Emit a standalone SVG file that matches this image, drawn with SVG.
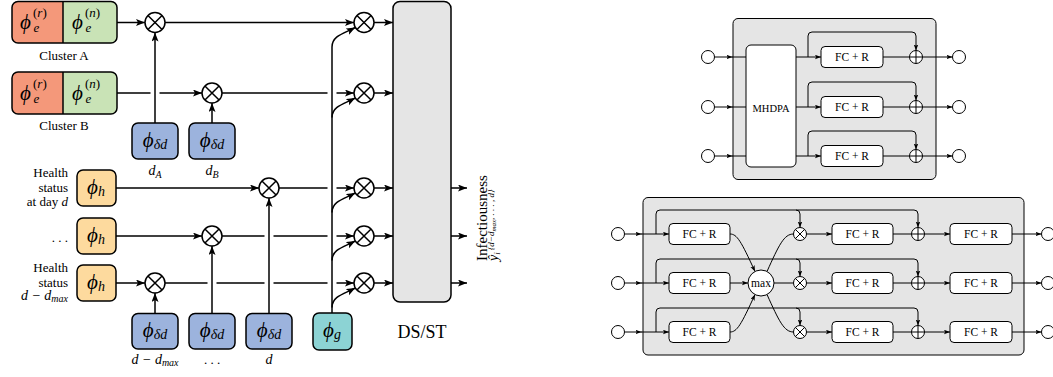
<svg xmlns="http://www.w3.org/2000/svg" width="1053" height="377" viewBox="0 0 1053 377">
<style>
.ln{fill:none;stroke:#000;stroke-width:1.5}
.ln2{fill:none;stroke:#000;stroke-width:1}
.bx{stroke:#000;stroke-width:1.5}
.bx2{fill:#fff;stroke:#000;stroke-width:1}
.t{font-family:"Liberation Serif","DejaVu Serif",serif;fill:#000}
.i{font-style:italic}
.c{text-anchor:middle}
.e{text-anchor:end}
.blue{fill:#9cb3dd}
.yel{fill:#fdda9e}
</style>
<defs>
<marker id="a" markerWidth="10" markerHeight="8" refX="9" refY="3.5" orient="auto" markerUnits="userSpaceOnUse"><path d="M0,0L9,3.5L0,7L2,3.5z" fill="#000"/></marker>
<marker id="s" markerWidth="7" markerHeight="6" refX="6" refY="2.25" orient="auto" markerUnits="userSpaceOnUse"><path d="M0,0L6,2.25L0,4.5L1.2,2.25z" fill="#000"/></marker>
<g id="ot"><circle r="10" fill="#fff" stroke="#000" stroke-width="1.5"/><path d="M-7.07,-7.07L7.07,7.07M-7.07,7.07L7.07,-7.07" stroke="#000" stroke-width="1.5"/></g>
<g id="ots"><circle r="6.5" fill="#fff" stroke="#000" stroke-width="1"/><path d="M-4.6,-4.6L4.6,4.6M-4.6,4.6L4.6,-4.6" stroke="#000" stroke-width="1"/></g>
<g id="op"><circle r="6.5" fill="#fff" stroke="#000" stroke-width="1"/><path d="M-6.5,0H6.5M0,-6.5V6.5" stroke="#000" stroke-width="1"/></g>
</defs>

<!-- background blocks -->
<g id="dsst">
<rect x="393" y="1.5" width="58" height="300.5" rx="7" fill="#e5e5e5" class="bx"/>
<text class="t c" x="422" y="338" font-size="18">DS/ST</text>
</g>
<g id="rt-block"><rect x="733" y="18.5" width="203" height="161" rx="5" fill="#e5e5e5" stroke="#000" stroke-width="1"/></g>
<g id="rb-block"><rect x="643" y="197.5" width="381" height="157.5" rx="5" fill="#e5e5e5" stroke="#000" stroke-width="1"/></g>

<g id="connectors">
<path class="ln" marker-end="url(#a)" d="M117,22.5H145"/>
<path class="ln" marker-end="url(#a)" d="M165,22.5H354"/>
<path class="ln" marker-end="url(#a)" d="M117,93H150.5M159.5,93H202"/>
<path class="ln" marker-end="url(#a)" d="M222,93H327.5M336.5,93H354"/>
<path class="ln" marker-end="url(#a)" d="M116,188H259"/>
<path class="ln" marker-end="url(#a)" d="M279,188H327.5M336.5,188H354"/>
<path class="ln" marker-end="url(#a)" d="M116,236H202"/>
<path class="ln" marker-end="url(#a)" d="M222,236H264.5M273.5,236H327.5M336.5,236H354"/>
<path class="ln" marker-end="url(#a)" d="M116,283H145"/>
<path class="ln" marker-end="url(#a)" d="M165,283H207.5M216.5,283H264.5M273.5,283H327.5M336.5,283H354"/>
<path class="ln" marker-end="url(#a)" d="M155,123V32.5"/>
<path class="ln" marker-end="url(#a)" d="M212,123V103"/>
<path class="ln" marker-end="url(#a)" d="M155,313.5V293"/>
<path class="ln" marker-end="url(#a)" d="M212,313.5V246"/>
<path class="ln" marker-end="url(#a)" d="M269,313.5V198"/>
<path class="ln" d="M332,313V47"/>
<path class="ln" marker-end="url(#a)" d="M332,47C332,35.5 344,33.5 355.3,27.5"/>
<path class="ln" marker-end="url(#a)" d="M332,117.5C332,106 344,104 355.3,98"/>
<path class="ln" marker-end="url(#a)" d="M332,212.5C332,201 344,199 355.3,193"/>
<path class="ln" marker-end="url(#a)" d="M332,260.5C332,249 344,247 355.3,241"/>
<path class="ln" marker-end="url(#a)" d="M332,307.5C332,296 344,294 355.3,288"/>
<path class="ln" marker-end="url(#a)" d="M374,22.5H393"/>
<path class="ln" marker-end="url(#a)" d="M374,93H393"/>
<path class="ln" marker-end="url(#a)" d="M374,188H393"/>
<path class="ln" marker-end="url(#a)" d="M374,236H393"/>
<path class="ln" marker-end="url(#a)" d="M374,283H393"/>
<path class="ln" marker-end="url(#a)" d="M451,188H467"/>
<path class="ln" marker-end="url(#a)" d="M451,236H467"/>
<path class="ln" marker-end="url(#a)" d="M451,283H467"/>

<!-- right top -->
<path class="ln2" marker-end="url(#s)" d="M714.5,57H732.5"/>
<path class="ln2" marker-end="url(#s)" d="M714.5,107H732.5"/>
<path class="ln2" marker-end="url(#s)" d="M714.5,156H732.5"/>
<path class="ln2" d="M732,57H746M732,107H746M732,156H746"/>
<path class="ln2" marker-end="url(#s)" d="M796,57H821"/>
<path class="ln2" marker-end="url(#s)" d="M796,107H821"/>
<path class="ln2" marker-end="url(#s)" d="M796,156H821"/>
<path class="ln2" marker-end="url(#s)" d="M808,57V36Q808,32 812,32H912Q916,32 916,36V50.5"/>
<path class="ln2" marker-end="url(#s)" d="M808,107V86Q808,82 812,82H912Q916,82 916,86V100.5"/>
<path class="ln2" marker-end="url(#s)" d="M808,156V135Q808,131 812,131H912Q916,131 916,135V149.5"/>
<path class="ln2" d="M883,57H909.5M883,107H909.5M883,156H909.5"/>
<path class="ln2" marker-end="url(#s)" d="M922.5,57H952.5"/>
<path class="ln2" marker-end="url(#s)" d="M922.5,107H952.5"/>
<path class="ln2" marker-end="url(#s)" d="M922.5,156H952.5"/>

<!-- right bottom -->
<path class="ln2" marker-end="url(#s)" d="M624.5,234H641.5"/>
<path class="ln2" marker-end="url(#s)" d="M624.5,283H641.5"/>
<path class="ln2" marker-end="url(#s)" d="M624.5,332H641.5"/>
<path class="ln2" marker-end="url(#s)" d="M641,234H669"/>
<path class="ln2" marker-end="url(#s)" d="M641,283H669"/>
<path class="ln2" marker-end="url(#s)" d="M641,332H669"/>
<path class="ln2" marker-end="url(#s)" d="M656,234V214Q656,210 660,210H914Q918,210 918,214V227.5"/>
<path class="ln2" marker-end="url(#s)" d="M656,283V263Q656,259 660,259H914Q918,259 918,263V276.5"/>
<path class="ln2" marker-end="url(#s)" d="M656,332V312Q656,308 660,308H914Q918,308 918,312V325.5"/>
<path class="ln2" marker-end="url(#s)" d="M796,210Q800,210 800,214V227.5"/>
<path class="ln2" marker-end="url(#s)" d="M796,259Q800,259 800,263V276.5"/>
<path class="ln2" marker-end="url(#s)" d="M796,308Q800,308 800,312V325.5"/>
<path class="ln2" marker-end="url(#s)" d="M730,234C737,234 741,241 755,271.5"/>
<path class="ln2" marker-end="url(#s)" d="M730,283H748"/>
<path class="ln2" marker-end="url(#s)" d="M730,332C737,332 741,325 755,294.5"/>
<path class="ln2" d="M767,271.5C779,245 784,234 793.5,234"/>
<path class="ln2" d="M774,283H793.5"/>
<path class="ln2" d="M767,294.5C779,321 784,332 793.5,332"/>
<path class="ln2" marker-end="url(#s)" d="M806.5,234H832"/>
<path class="ln2" marker-end="url(#s)" d="M806.5,283H832"/>
<path class="ln2" marker-end="url(#s)" d="M806.5,332H832"/>
<path class="ln2" d="M893,234H911.5M893,283H911.5M893,332H911.5"/>
<path class="ln2" marker-end="url(#s)" d="M924.5,234H950"/>
<path class="ln2" marker-end="url(#s)" d="M924.5,283H950"/>
<path class="ln2" marker-end="url(#s)" d="M924.5,332H950"/>
<path class="ln2" marker-end="url(#s)" d="M1012,234H1041.5"/>
<path class="ln2" marker-end="url(#s)" d="M1012,283H1041.5"/>
<path class="ln2" marker-end="url(#s)" d="M1012,332H1041.5"/>
</g>

<g id="clusterA">
<rect x="12" y="1.5" width="105" height="41.5" rx="6" fill="#c9e3b6"/>
<path d="M63,1.5H18A6,6 0 0 0 12,7.5V37A6,6 0 0 0 18,43H63z" fill="#f4987a"/>
<rect x="12" y="1.5" width="105" height="41.5" rx="6" fill="none" class="bx"/>
<path class="ln" d="M63,1.5V43"/>
<text class="t i" x="20" y="28.5" font-size="21">ϕ</text>
<text class="t" x="33" y="17" font-size="13">(<tspan class="i">r</tspan>)</text>
<text class="t i" x="33.5" y="32" font-size="13">e</text>
<text class="t i" x="72" y="28.5" font-size="21">ϕ</text>
<text class="t" x="85" y="17" font-size="13">(<tspan class="i">n</tspan>)</text>
<text class="t i" x="85.5" y="32" font-size="13">e</text>
<text class="t c" x="64" y="59.5" font-size="13">Cluster A</text>
</g>

<g id="clusterB">
<rect x="12" y="72" width="105" height="42" rx="6" fill="#c9e3b6"/>
<path d="M63,72H18A6,6 0 0 0 12,78V108A6,6 0 0 0 18,114H63z" fill="#f4987a"/>
<rect x="12" y="72" width="105" height="42" rx="6" fill="none" class="bx"/>
<path class="ln" d="M63,72V114"/>
<text class="t i" x="20" y="99.5" font-size="21">ϕ</text>
<text class="t" x="33" y="88" font-size="13">(<tspan class="i">r</tspan>)</text>
<text class="t i" x="33.5" y="103" font-size="13">e</text>
<text class="t i" x="72" y="99.5" font-size="21">ϕ</text>
<text class="t" x="85" y="88" font-size="13">(<tspan class="i">n</tspan>)</text>
<text class="t i" x="85.5" y="103" font-size="13">e</text>
<text class="t c" x="64" y="130" font-size="13">Cluster B</text>
</g>

<g id="dA">
<rect x="132" y="123" width="46" height="36" rx="6" class="bx blue"/>
<text class="t i c" x="155" y="147" font-size="21">ϕ<tspan font-size="14" dy="2">δd</tspan></text>
<text class="t i c" x="155" y="175" font-size="14">d<tspan font-size="10" dy="3">A</tspan></text>
</g>
<g id="dB">
<rect x="189" y="123" width="46" height="36" rx="6" class="bx blue"/>
<text class="t i c" x="212" y="147" font-size="21">ϕ<tspan font-size="14" dy="2">δd</tspan></text>
<text class="t i c" x="212" y="175" font-size="14">d<tspan font-size="10" dy="3">B</tspan></text>
</g>

<g id="h1">
<rect x="77" y="170" width="39" height="36" rx="6" class="bx yel"/>
<text class="t i c" x="96" y="194" font-size="21">ϕ<tspan font-size="14" dy="2">h</tspan></text>
<text class="t e" x="68" y="177" font-size="13">Health</text>
<text class="t e" x="68" y="192" font-size="13">status</text>
<text class="t e" x="68" y="206" font-size="13">at day <tspan class="i">d</tspan></text>
</g>
<g id="h2">
<rect x="77" y="218" width="39" height="36" rx="6" class="bx yel"/>
<text class="t i c" x="96" y="242" font-size="21">ϕ<tspan font-size="14" dy="2">h</tspan></text>
<text class="t e" x="68" y="242" font-size="13">. . .</text>
</g>
<g id="h3">
<rect x="77" y="265" width="39" height="36" rx="6" class="bx yel"/>
<text class="t i c" x="96" y="289" font-size="21">ϕ<tspan font-size="14" dy="2">h</tspan></text>
<text class="t e" x="68" y="272" font-size="13">Health</text>
<text class="t e" x="68" y="287" font-size="13">status</text>
<text class="t e i" x="68" y="300" font-size="14">d − d<tspan font-size="10" dy="2">max</tspan></text>
</g>

<g id="d1">
<rect x="132" y="313.5" width="46" height="35.5" rx="6" class="bx blue"/>
<text class="t i c" x="155" y="337" font-size="21">ϕ<tspan font-size="14" dy="2">δd</tspan></text>
<text class="t i c" x="155" y="364" font-size="14">d − d<tspan font-size="10" dy="2">max</tspan></text>
</g>
<g id="d2">
<rect x="189" y="313.5" width="46" height="35.5" rx="6" class="bx blue"/>
<text class="t i c" x="212" y="337" font-size="21">ϕ<tspan font-size="14" dy="2">δd</tspan></text>
<text class="t c" x="212" y="364" font-size="13">. . .</text>
</g>
<g id="d3">
<rect x="246" y="313.5" width="46" height="35.5" rx="6" class="bx blue"/>
<text class="t i c" x="269" y="337" font-size="21">ϕ<tspan font-size="14" dy="2">δd</tspan></text>
<text class="t i c" x="269" y="364" font-size="14">d</text>
</g>
<g id="g">
<rect x="313" y="313" width="39" height="37" rx="6" class="bx" fill="#8cd3d4"/>
<text class="t i c" x="332" y="337" font-size="21">ϕ<tspan font-size="14" dy="2">g</tspan></text>
</g>

<g id="mulA"><use href="#ot" x="155" y="22.5"/></g>
<g id="mulB"><use href="#ot" x="212" y="93"/></g>
<g id="mulR1"><use href="#ot" x="269" y="188"/></g>
<g id="mulR2"><use href="#ot" x="212" y="236"/></g>
<g id="mulR3"><use href="#ot" x="155" y="283"/></g>
<g id="mulG1"><use href="#ot" x="364" y="22.5"/></g>
<g id="mulG2"><use href="#ot" x="364" y="93"/></g>
<g id="mulG3"><use href="#ot" x="364" y="188"/></g>
<g id="mulG4"><use href="#ot" x="364" y="236"/></g>
<g id="mulG5"><use href="#ot" x="364" y="283"/></g>

<g id="output-label">
<text class="t" transform="translate(487,261) rotate(-90)" font-size="15">Infectiousness</text>
<text class="t i" transform="translate(498,261) rotate(-90)" font-size="14">ŷ<tspan font-size="9" dy="2">i</tspan><tspan font-size="9" dx="2" dy="-6">{d−d<tspan font-size="7" dy="1.5">max</tspan><tspan dy="-1.5">, . . . , d}</tspan></tspan></text>
</g>

<!-- ============ RIGHT TOP ============ -->
<g id="rt-mhdpa">
<rect x="746" y="45" width="50" height="122" rx="5" class="bx2"/>
<text class="t c" x="771" y="111.5" font-size="10.5">MHDPA</text>
</g>
<g id="rt-in"><circle cx="708" cy="57" r="6.5" class="bx2"/><circle cx="708" cy="107" r="6.5" class="bx2"/><circle cx="708" cy="156" r="6.5" class="bx2"/></g>
<g id="rt-fc1"><rect x="821" y="46.5" width="62" height="21" rx="4" class="bx2"/><text class="t c" x="852" y="61" font-size="11.5">FC + R</text></g>
<g id="rt-fc2"><rect x="821" y="96.5" width="62" height="21" rx="4" class="bx2"/><text class="t c" x="852" y="111" font-size="11.5">FC + R</text></g>
<g id="rt-fc3"><rect x="821" y="145.5" width="62" height="21" rx="4" class="bx2"/><text class="t c" x="852" y="160" font-size="11.5">FC + R</text></g>
<g id="rt-add"><use href="#op" x="916" y="57"/><use href="#op" x="916" y="107"/><use href="#op" x="916" y="156"/></g>
<g id="rt-out"><circle cx="959" cy="57" r="6.5" class="bx2"/><circle cx="959" cy="107" r="6.5" class="bx2"/><circle cx="959" cy="156" r="6.5" class="bx2"/></g>

<!-- ============ RIGHT BOTTOM ============ -->
<g id="rb-in"><circle cx="618" cy="234" r="6.5" class="bx2"/><circle cx="618" cy="283" r="6.5" class="bx2"/><circle cx="618" cy="332" r="6.5" class="bx2"/></g>
<g id="rb-fcA"><rect x="669" y="223.5" width="61" height="21" rx="4" class="bx2"/><text class="t c" x="699.5" y="238" font-size="11.5">FC + R</text>
<rect x="669" y="272.5" width="61" height="21" rx="4" class="bx2"/><text class="t c" x="699.5" y="287" font-size="11.5">FC + R</text>
<rect x="669" y="321.5" width="61" height="21" rx="4" class="bx2"/><text class="t c" x="699.5" y="336" font-size="11.5">FC + R</text></g>
<g id="rb-max"><circle cx="761" cy="283" r="13" class="bx2"/><text class="t c" x="761" y="286.5" font-size="11.5">max</text></g>
<g id="rb-mul"><use href="#ots" x="800" y="234"/><use href="#ots" x="800" y="283"/><use href="#ots" x="800" y="332"/></g>
<g id="rb-fcB"><rect x="832" y="223.5" width="61" height="21" rx="4" class="bx2"/><text class="t c" x="862.5" y="238" font-size="11.5">FC + R</text>
<rect x="832" y="272.5" width="61" height="21" rx="4" class="bx2"/><text class="t c" x="862.5" y="287" font-size="11.5">FC + R</text>
<rect x="832" y="321.5" width="61" height="21" rx="4" class="bx2"/><text class="t c" x="862.5" y="336" font-size="11.5">FC + R</text></g>
<g id="rb-add"><use href="#op" x="918" y="234"/><use href="#op" x="918" y="283"/><use href="#op" x="918" y="332"/></g>
<g id="rb-fcC"><rect x="950" y="223.5" width="62" height="21" rx="4" class="bx2"/><text class="t c" x="981" y="238" font-size="11.5">FC + R</text>
<rect x="950" y="272.5" width="62" height="21" rx="4" class="bx2"/><text class="t c" x="981" y="287" font-size="11.5">FC + R</text>
<rect x="950" y="321.5" width="62" height="21" rx="4" class="bx2"/><text class="t c" x="981" y="336" font-size="11.5">FC + R</text></g>
<g id="rb-out"><circle cx="1048" cy="234" r="6.5" class="bx2"/><circle cx="1048" cy="283" r="6.5" class="bx2"/><circle cx="1048" cy="332" r="6.5" class="bx2"/></g>
</svg>
